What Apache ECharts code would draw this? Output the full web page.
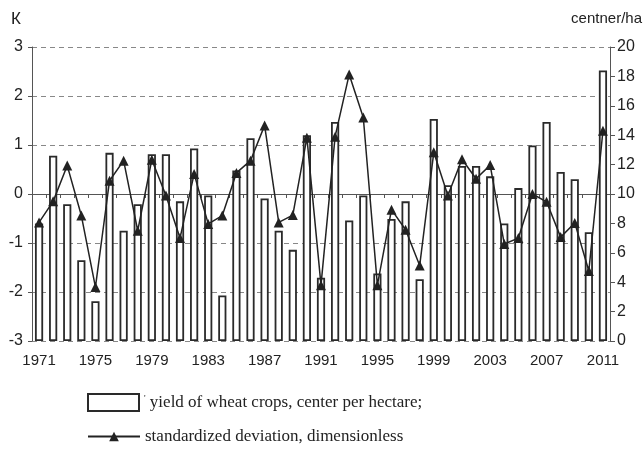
<!DOCTYPE html>
<html>
<head>
<meta charset="utf-8">
<script src="https://cdn.jsdelivr.net/npm/echarts@6/dist/echarts.min.js"></script>
<style>
  html, body { margin: 0; padding: 0; background: #fff; }
  #chart { width: 643px; height: 450px; }
</style>
</head>
<body>
<div id="chart"></div>
<script>
// years 1971..2011
var years = [];
for (var y = 1971; y <= 2011; y++) years.push(String(y));

// yield of wheat crops, centner per hectare (right axis)
var yieldValues = [
  8.0, 12.6, 9.3, 5.5, 2.7, 12.8, 7.5, 9.3, 12.7, 12.7,
  9.5, 13.1, 9.9, 3.1, 11.6, 13.8, 9.7, 7.5, 6.2, 14.0,
  4.3, 14.9, 8.2, 9.9, 4.6, 8.3, 9.5, 4.2, 15.1, 10.6,
  11.9, 11.9, 11.2, 8.0, 10.4, 13.3, 14.9, 11.5, 11.0, 7.4,
  18.4
];

// standardized deviation (left axis)
var deviation = [
  -0.58, -0.15, 0.58, -0.44, -1.9, 0.27, 0.68, -0.75, 0.7, -0.03,
  -0.9, 0.41, -0.61, -0.44, 0.43, 0.68, 1.4, -0.58, -0.43, 1.15,
  -1.86, 1.17, 2.44, 1.56, -1.86, -0.32, -0.73, -1.46, 0.85, -0.03,
  0.71, 0.31, 0.59, -1.02, -0.9, 0.0, -0.16, -0.88, -0.59, -1.57,
  1.29
];

var barName = "yield of wheat crops, center per hectare;";
var lineName = "standardized deviation, dimensionless";

var ink = "#222";
var sans = "'Liberation Sans Narrow', 'Liberation Sans', Arial, sans-serif";
var serif = "'Liberation Serif', 'DejaVu Serif', serif";

var chart = echarts.init(document.getElementById("chart"));

var legendText = {
  fontFamily: serif,
  fontSize: 17,
  color: ink,
  rich: { s: { fontSize: 9, verticalAlign: "top", fontFamily: serif, color: ink } }
};

var option = {
  animation: false,
  backgroundColor: "#fff",
  grid: { left: 32, right: 33, top: 47, bottom: 109 },
  graphic: [
    { type: "text", left: 11, top: 11, style: { text: "К", font: "17px " + sans, fill: ink } },
    { type: "text", right: 1, top: 11, style: { text: "centner/ha", font: "15px " + sans, fill: ink } }
  ],
  legend: [
    {
      left: 82,
      top: 388,
      itemWidth: 51,
      itemHeight: 17,
      textStyle: legendText,
      formatter: function (name) { return "{s|'} " + name; },
      data: [{ name: barName, icon: "rect" }]
    },
    {
      left: 82,
      top: 423,
      itemWidth: 52,
      itemHeight: 12,
      textStyle: legendText,
      data: [{ name: lineName }]
    }
  ],
  xAxis: {
    type: "category",
    data: years,
    boundaryGap: true,
    axisLine: { lineStyle: { color: "#555", width: 1 } },
    axisTick: { show: true, interval: 0, length: 4, lineStyle: { color: "#555" } },
    axisLabel: {
      interval: 3,
      margin: 12,
      fontFamily: sans,
      fontSize: 15,
      color: ink
    },
    splitLine: { show: false }
  },
  yAxis: [
    {
      type: "value",
      min: -3,
      max: 3,
      interval: 1,
      position: "left",
      axisLine: { show: true, lineStyle: { color: "#555" } },
      axisTick: { show: true, length: 4, lineStyle: { color: "#555" } },
      axisLabel: { fontFamily: sans, fontSize: 16, color: ink, margin: 9 },
      splitLine: { show: true, lineStyle: { color: "#888", type: [5, 4], width: 1 } }
    },
    {
      type: "value",
      min: 0,
      max: 20,
      interval: 2,
      position: "right",
      axisLine: { show: true, lineStyle: { color: "#555" } },
      axisTick: { show: true, length: 5, lineStyle: { color: "#555" } },
      axisLabel: { fontFamily: sans, fontSize: 16, color: ink, margin: 7 },
      splitLine: { show: false }
    }
  ],
  series: [
    {
      name: barName,
      type: "bar",
      yAxisIndex: 1,
      barWidth: "58%",
      data: yieldValues,
      itemStyle: { color: "#fff", borderColor: "#2a2a2a", borderWidth: 1.8 },
      z: 2
    },
    {
      name: lineName,
      type: "line",
      yAxisIndex: 0,
      data: deviation,
      symbol: "triangle",
      symbolSize: 10,
      showSymbol: true,
      showAllSymbol: true,
      lineStyle: { color: ink, width: 1.5 },
      itemStyle: { color: ink },
      z: 3
    }
  ]
};

chart.setOption(option);
</script>
</body>
</html>
